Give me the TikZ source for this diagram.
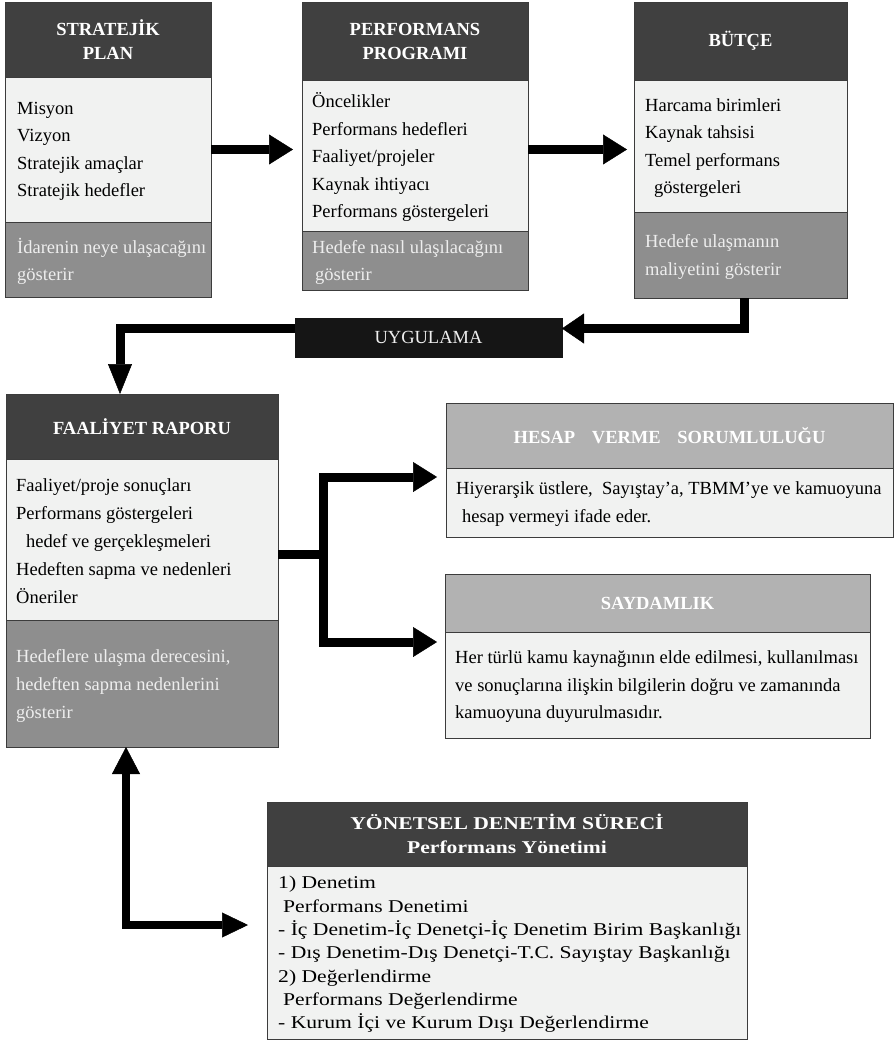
\documentclass[tikz,border=0pt]{standalone}
\usepackage{fontspec}
\setmainfont{Liberation Serif}
\newfontfamily\widefont[FakeStretch=1.2]{Liberation Serif}
\usetikzlibrary{arrows.meta,calc}
\definecolor{hdark}{HTML}{404040}
\definecolor{lightc}{HTML}{F1F2F1}
\definecolor{grayc}{HTML}{8E8E8E}
\definecolor{notetext}{HTML}{EEEEEE}
\definecolor{hlight}{HTML}{B2B2B2}
\definecolor{ublack}{HTML}{151515}
\definecolor{bordc}{HTML}{3C3C3C}
\begin{document}
\begin{tikzpicture}[x=1pt,y=-1pt,
  sec/.style={draw=bordc, line width=0.9pt, anchor=north west, inner sep=0pt, outer sep=0pt},
  head/.style={sec, fill=hdark, text=white, font=\fontsize{18.5}{24}\selectfont\bfseries, align=center},
  lhead/.style={sec, fill=hlight, text=white, font=\fontsize{18.5}{24}\selectfont\bfseries, align=center},
  body/.style={sec, fill=lightc},
  note/.style={sec, fill=grayc},
  btxt/.style={anchor=west, align=left, inner sep=0pt, yshift=-2pt, font=\fontsize{18.5}{27.5}\selectfont},
  ntxt/.style={btxt, text=notetext},
  fat/.style={line width=9pt, draw=black, line join=miter},
  tipA/.style={-{Triangle[length=24pt,width=30pt,line width=0.5pt]}}
]
\useasboundingbox (0,0) rectangle (894,1040);

% ---- Box 1: Stratejik Plan
\node[head, minimum width=206pt, minimum height=75pt] (h1) at (5,2) {STRATEJİK\\PLAN};
\node[body, minimum width=206pt, minimum height=145pt] (b1) at (5,77) {};
\node[note, minimum width=206pt, minimum height=75pt] (n1) at (5,222) {};
\node[btxt] (t1) at ([xshift=12pt]b1.west) {Misyon\\Vizyon\\Stratejik amaçlar\\Stratejik hedefler};
\node[ntxt] (u1) at ([xshift=12pt]n1.west) {İdarenin neye ulaşacağını\\gösterir};

% ---- Box 2: Performans Programi
\node[head, minimum width=226pt, minimum height=78pt] (h2) at (302,2) {PERFORMANS\\PROGRAMI};
\node[body, minimum width=226pt, minimum height=151pt] (b2) at (302,80) {};
\node[note, minimum width=226pt, minimum height=59pt] (n2) at (302,231) {};
\node[btxt] (t2) at ([xshift=10pt]b2.west) {Öncelikler\\Performans hedefleri\\Faaliyet/projeler\\Kaynak ihtiyacı\\Performans göstergeleri};
\node[ntxt] (u2) at ([xshift=10pt]n2.west) {Hedefe nasıl ulaşılacağını\\\hspace*{3pt}gösterir};

% ---- Box 3: Butce
\node[head, minimum width=213pt, minimum height=78pt] (h3) at (634,2) {BÜTÇE};
\node[body, minimum width=213pt, minimum height=132pt] (b3) at (634,80) {};
\node[note, minimum width=213pt, minimum height=86pt] (n3) at (634,212) {};
\node[btxt] (t3) at ([xshift=11pt]b3.west) {Harcama birimleri\\Kaynak tahsisi\\Temel performans\\\hspace*{9pt}göstergeleri};
\node[ntxt] (u3) at ([xshift=11pt]n3.west) {Hedefe ulaşmanın\\maliyetini gösterir};

% ---- Uygulama
\node[sec, fill=ublack, draw=ublack, minimum width=267pt, minimum height=39pt, text=notetext, font=\fontsize{18.5}{20}\selectfont] (upl) at (295,318) {UYGULAMA};

% ---- Faaliyet Raporu
\node[head, minimum width=272pt, minimum height=65pt] (h4) at (6,394) {FAALİYET RAPORU};
\node[body, minimum width=272pt, minimum height=161pt] (b4) at (6,459) {};
\node[note, minimum width=272pt, minimum height=127pt] (n4) at (6,620) {};
\node[btxt, font=\fontsize{18.5}{28}\selectfont] (t4) at ([xshift=10pt]b4.west) {Faaliyet/proje sonuçları\\Performans göstergeleri\\\hspace*{10pt}hedef ve gerçekleşmeleri\\Hedeften sapma ve nedenleri\\Öneriler};
\node[ntxt, font=\fontsize{18.5}{28}\selectfont] (u4) at ([xshift=10pt]n4.west) {Hedeflere ulaşma derecesini,\\hedeften sapma nedenlerini\\gösterir};

% ---- Hesap verme sorumlulugu
\node[lhead, minimum width=447pt, minimum height=65pt] (hh) at (446,403) {HESAP\hspace{12pt} VERME\hspace{12pt} SORUMLULUĞU};
\node[body, minimum width=447pt, minimum height=69pt] (hb) at (446,468) {};
\node[btxt, font=\fontsize{18.5}{28}\selectfont] (th) at ([xshift=10pt]hb.west) {Hiyerarşik üstlere,\ \ Sayıştay’a, TBMM’ye ve kamuoyuna\\\hspace*{6pt}hesap vermeyi ifade eder.};

% ---- Saydamlik
\node[lhead, minimum width=425pt, minimum height=58pt] (sh) at (445,574) {SAYDAMLIK};
\node[body, minimum width=425pt, minimum height=106pt] (sb) at (445,632) {};
\node[btxt] (ts) at ([xshift=10pt]sb.west) {Her türlü kamu kaynağının elde edilmesi, kullanılması\\ve sonuçlarına ilişkin bilgilerin doğru ve zamanında\\kamuoyuna duyurulmasıdır.};

% ---- Yonetsel denetim sureci
\node[head, minimum width=480pt, minimum height=64pt, font=\widefont\fontsize{18}{24}\selectfont\bfseries] (yh) at (267,802) {YÖNETSEL DENETİM SÜRECİ\\Performans Yönetimi};
\node[body, minimum width=480pt, minimum height=173pt] (yb) at (267,866) {};
\node[btxt, font=\widefont\fontsize{18}{23.3}\selectfont] (ty) at ([xshift=11pt]yb.west) {1) Denetim\\\hspace*{5pt}Performans Denetimi\\- İç Denetim-İç Denetçi-İç Denetim Birim Başkanlığı\\- Dış Denetim-Dış Denetçi-T.C. Sayıştay Başkanlığı\\2) Değerlendirme\\\hspace*{5pt}Performans Değerlendirme\\- Kurum İçi ve Kurum Dışı Değerlendirme};

% ---- Connectors
\draw[fat, tipA, shorten >=9pt] (b1.east) -- (b1.east -| b2.west);
\draw[fat, tipA, shorten >=7pt] (b2.east |- b1.east) -- (b1.east -| b3.west);
\draw[fat, -{Triangle[length=22pt,width=30pt,line width=0.5pt]}] ([xshift=4pt]n3.south) |- ([yshift=9pt]upl.east);
\draw[fat, -{Triangle[length=30pt,width=24pt,line width=0.5pt]}] ([yshift=9pt]upl.west) -| ([xshift=114pt]h4.north west);

\coordinate (br) at ([xshift=45pt,yshift=-15pt]b4.east);
\draw[fat] ([yshift=-15pt]b4.east) -- (br);
\draw[fat, tipA, shorten >=9pt] (br) |- ([yshift=-9pt]hb.north west);
\draw[fat, tipA, shorten >=8pt] (br) |- ([yshift=-10pt]sb.north west);

\draw[line width=8pt, line join=miter, {Triangle[length=27pt,width=28pt,line width=0.5pt]}-{Triangle[length=26pt,width=25pt,line width=0.5pt]}, shorten >=19pt] ([xshift=-16pt]n4.south) |- ([yshift=-59pt]yb.north west);
\end{tikzpicture}
\end{document}
